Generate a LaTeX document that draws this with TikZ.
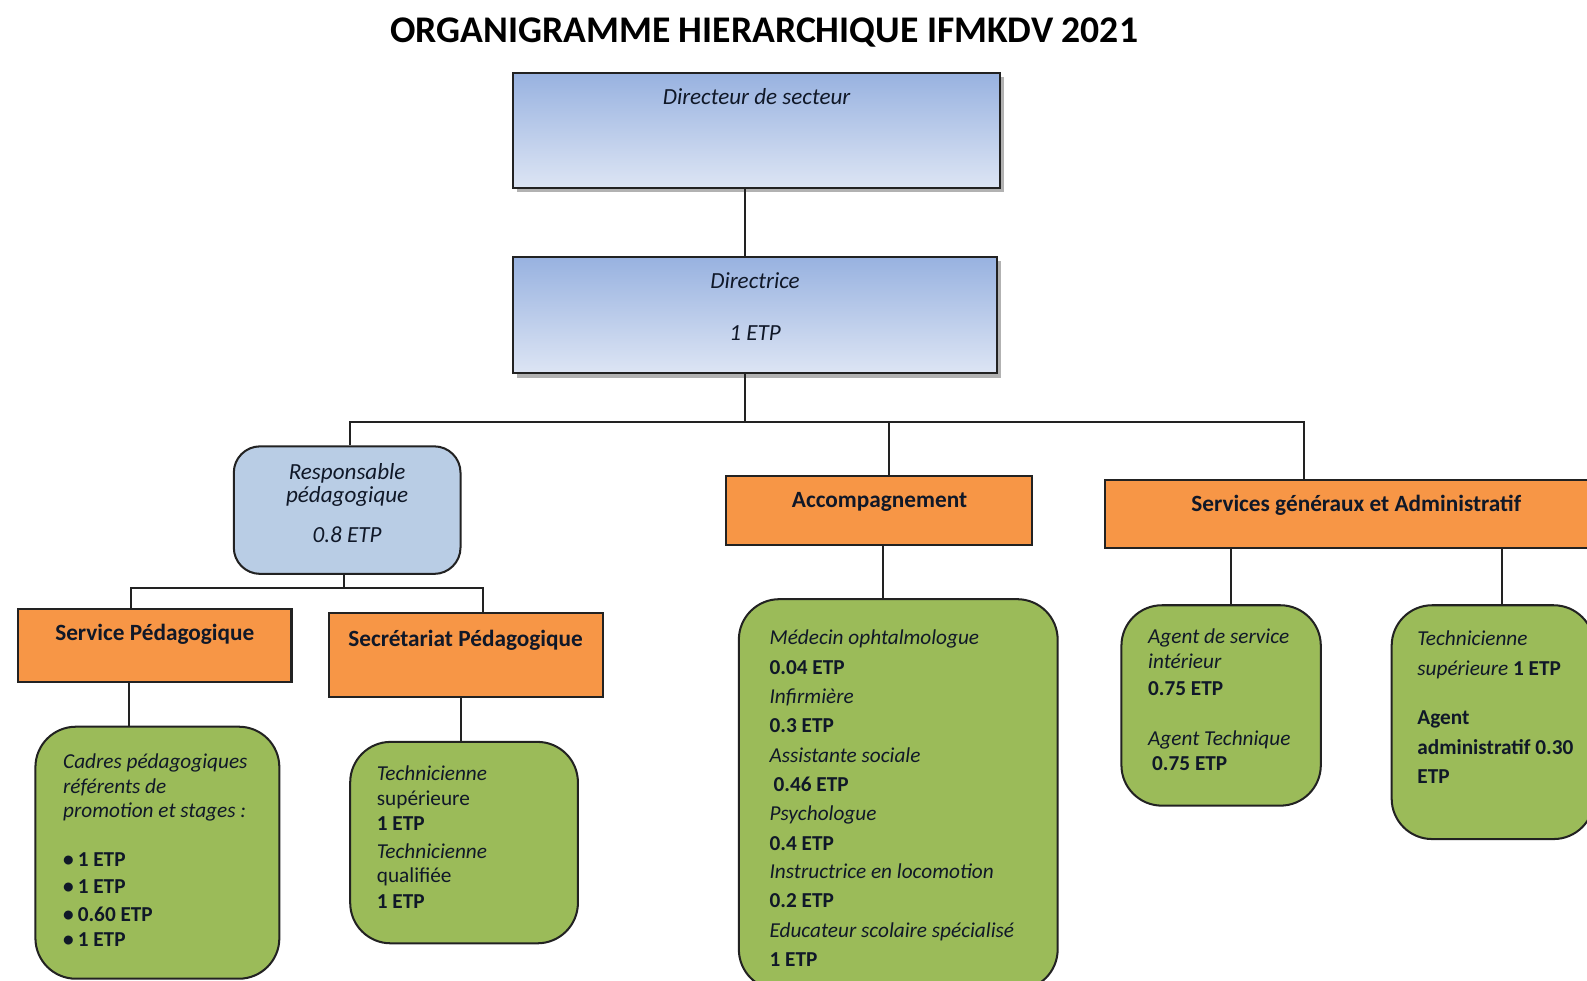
\documentclass[tikz,border=0pt]{standalone}
\usepackage{fontspec}
\setmainfont{Carlito}
\usetikzlibrary{shadows}
\definecolor{orng}{HTML}{F79646}
\definecolor{grn}{HTML}{9BBB59}
\definecolor{lblue}{HTML}{B9CDE5}
\definecolor{btop}{RGB}{152,178,224}
\definecolor{bbot}{RGB}{221,229,244}
\definecolor{edge}{HTML}{222222}
\definecolor{ink}{HTML}{101828}
\tikzset{
  box/.style={draw=edge, line width=1pt, inner sep=0pt},
  bluebox/.style={box, rectangle, top color=btop, bottom color=bbot,
    drop shadow={shadow xshift=2pt, shadow yshift=-2pt, fill=black, opacity=.3}},
  respbox/.style={box, rounded corners=13pt, fill=lblue},
  orangebox/.style={box, rectangle, fill=orng},
  greenbox/.style={box, rounded corners=20pt, fill=grn},
  conn/.style={draw=edge, line width=1pt},
  txt/.style={inner sep=0pt, text height=8.5pt, text depth=0.5pt, text=ink,
    font=\fontsize{10.5}{12}\selectfont},
  btxt/.style={txt, font=\fontsize{11.4}{13}\selectfont},
  ltxt/.style={txt, anchor=west},
  head/.style={txt, font=\fontsize{11.5}{13}\selectfont\bfseries},
  ttl/.style={inner sep=0pt, font=\fontsize{18.6}{22}\selectfont\bfseries}
}
\begin{document}
\begin{tikzpicture}[x=0.5pt, y=-0.5pt]
\useasboundingbox (0,0) rectangle (1568,969);
\clip (0,0) rectangle (1568,969);

\node[ttl] (title) at (755,32) {ORGANIGRAMME HIERARCHIQUE IFMKDV 2021};

% top boxes
\node[bluebox, minimum width=240.5pt, minimum height=57pt] (dir) at (747.5,129) {};
\node[btxt] (dirt) at (747.5,95) {\itshape Directeur de secteur};
\node[bluebox, minimum width=239pt, minimum height=57.5pt] (drice) at (746,311.5) {};
\node[btxt] (dricet1) at (746,277) {\itshape Directrice};
\node[btxt] (dricet2) at (746,328) {\itshape 1 ETP};

% second level
\node[respbox, minimum width=112pt, minimum height=63pt] (resp) at (343,504) {};
\node[btxt] (respt1) at (343,466) {\itshape Responsable};
\node[btxt] (respt2) at (343,488) {\itshape pédagogique};
\node[btxt] (respt3) at (343,528) {\itshape 0.8 ETP};

\node[orangebox, minimum width=151.5pt, minimum height=34pt] (accomp) at (868.5,504) {};
\node[head] (accompt) at (869,493) {Accompagnement};
\node[orangebox, minimum width=248pt, minimum height=33.5pt] (serv) at (1340,507.5) {};
\node[head] (servt) at (1340,497) {Services généraux et Administratif};

% third level
\node[orangebox, minimum width=135pt, minimum height=36pt] (servped) at (153,638) {};
\node[head] (servpedt) at (153,625) {Service Pédagogique};
\node[orangebox, minimum width=135.5pt, minimum height=41.5pt] (secped) at (460.5,647.5) {};
\node[head] (secpedt) at (460,631) {Secrétariat Pédagogique};

% green boxes
\node[greenbox, minimum width=120.5pt, minimum height=124.5pt] (g1) at (155.5,842.5) {};
\node[greenbox, minimum width=112.5pt, minimum height=99.5pt] (g2) at (458.5,832.5) {};
\node[greenbox, minimum width=157.5pt, minimum height=193pt] (g3) at (887.5,785) {};
\node[greenbox, minimum width=98.5pt, minimum height=99pt] (g4) at (1206.5,697) {};
\node[greenbox, minimum width=100pt, minimum height=115.5pt] (g5) at (1475,713.5) {};

% green box texts
\node[ltxt] (g1a) at (62,751) {\itshape Cadres pédagogiques};
\node[ltxt] (g1b) at (62,776) {\itshape référents de};
\node[ltxt] (g1c) at (62,800) {\itshape promotion et stages :};
\node[ltxt] (g1d) at (62,848) {\bfseries •\hspace{2pt}1 ETP};
\node[ltxt] (g1e) at (62,875) {\bfseries •\hspace{2pt}1 ETP};
\node[ltxt] (g1f) at (62,902) {\bfseries •\hspace{2pt}0.60 ETP};
\node[ltxt] (g1g) at (62,927) {\bfseries •\hspace{2pt}1 ETP};

\node[ltxt] (g2a) at (372,763) {\itshape Technicienne};
\node[ltxt] (g2b) at (372,788) {supérieure};
\node[ltxt] (g2c) at (372,813) {\bfseries 1 ETP};
\node[ltxt] (g2d) at (372,840) {\itshape Technicienne};
\node[ltxt] (g2e) at (372,864) {qualifiée};
\node[ltxt] (g2f) at (372,890) {\bfseries 1 ETP};

\node[ltxt] (g3a) at (760,629) {\itshape Médecin ophtalmologue};
\node[ltxt] (g3b) at (760,658) {\bfseries 0.04 ETP};
\node[ltxt] (g3c) at (760,687) {\itshape Infirmière};
\node[ltxt] (g3d) at (760,716) {\bfseries 0.3 ETP};
\node[ltxt] (g3e) at (760,745) {\itshape Assistante sociale};
\node[ltxt] (g3f) at (764,774) {\bfseries 0.46 ETP};
\node[ltxt] (g3g) at (760,803) {\itshape Psychologue};
\node[ltxt] (g3h) at (760,832) {\bfseries 0.4 ETP};
\node[ltxt] (g3i) at (760,860) {\itshape Instructrice en locomotion};
\node[ltxt] (g3j) at (760,889) {\bfseries 0.2 ETP};
\node[ltxt] (g3k) at (760,918) {\itshape Educateur scolaire spécialisé};
\node[ltxt] (g3l) at (760,947) {\bfseries 1 ETP};

\node[ltxt] (g4a) at (1134,628) {\itshape Agent de service};
\node[ltxt] (g4b) at (1134,652) {\itshape intérieur};
\node[ltxt] (g4c) at (1134,679) {\bfseries 0.75 ETP};
\node[ltxt] (g4d) at (1134,729) {\itshape Agent Technique};
\node[ltxt] (g4e) at (1138,753) {\bfseries 0.75 ETP};

\node[ltxt] (g5a) at (1400,630) {\itshape Technicienne};
\node[ltxt] (g5b) at (1400,659) {\textit{supérieure} \textbf{1 ETP}};
\node[ltxt] (g5c) at (1400,708) {\bfseries Agent};
\node[ltxt] (g5d) at (1400,737) {\bfseries administratif 0.30};
\node[ltxt] (g5e) at (1400,766) {\bfseries ETP};

% connector coordinates
\coordinate (bus) at (736,417);
\coordinate (busL) at (346,417);
\coordinate (busM) at (878,417);
\coordinate (busR) at (1288,417);
\coordinate (rbus) at (340,581);
\coordinate (rbL) at (129,581);
\coordinate (rbR) at (477,581);
\coordinate (c1) at (127,0);
\coordinate (c2) at (455,0);
\coordinate (c3) at (872,0);
\coordinate (c4) at (1216,0);
\coordinate (c5) at (1484,0);

% connectors
\draw[conn] (dir.south -| bus) -- (drice.north -| bus);
\draw[conn] (drice.south -| bus) -- (bus);
\draw[conn] (resp.north -| busL) -- (busL) -- (busR) -- (serv.north -| busR);
\draw[conn] (accomp.north -| busM) -- (busM);
\draw[conn] (resp.south -| rbus) -- (rbus);
\draw[conn] (servped.north -| rbL) -- (rbL) -- (rbR) -- (secped.north -| rbR);
\draw[conn] (servped.south -| c1) -- (g1.north -| c1);
\draw[conn] (secped.south -| c2) -- (g2.north -| c2);
\draw[conn] (accomp.south -| c3) -- (g3.north -| c3);
\draw[conn] (serv.south -| c4) -- (g4.north -| c4);
\draw[conn] (serv.south -| c5) -- (g5.north -| c5);
\end{tikzpicture}
\end{document}
